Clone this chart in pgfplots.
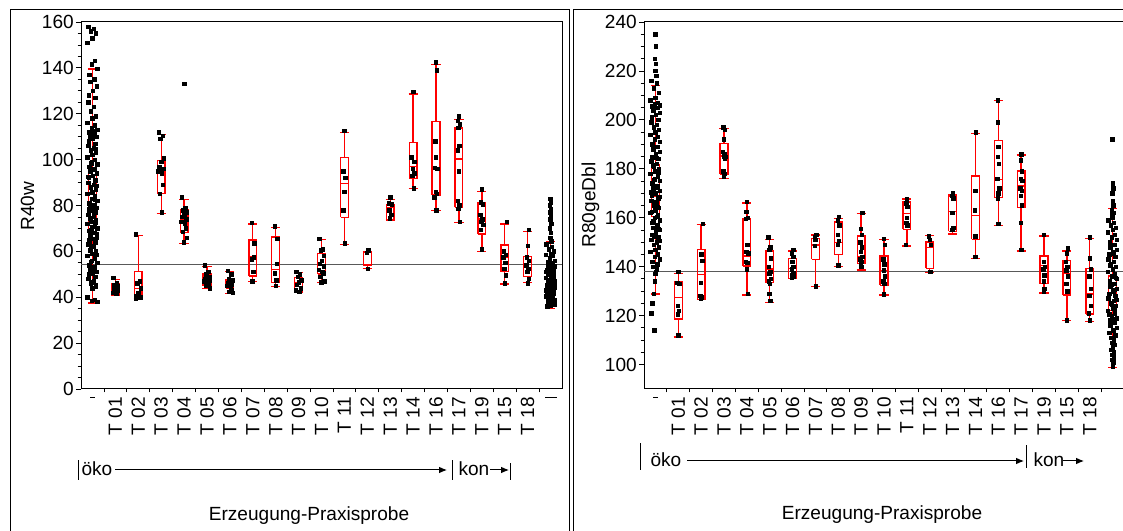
\documentclass[border=0pt]{standalone}
\usepackage{fontspec}
\setmainfont{Liberation Sans}
\usepackage{pgfplots}
\pgfplotsset{compat=1.18}
\usetikzlibrary{arrows.meta}
\definecolor{jred}{RGB}{255,0,0}

% box: position, lower whisker, Q1, median, Q3, upper whisker
\newcommand\bx[6]{%
 \pgfmathsetmacro\bxA{#1-0.17}\pgfmathsetmacro\bxB{#1+0.17}%
 \pgfmathsetmacro\bxC{#1-0.2}\pgfmathsetmacro\bxD{#1+0.2}%
 \edef\bxDo{%
  \noexpand\addplot[bxs] coordinates {(\bxA,#3)(\bxB,#3)(\bxB,#5)(\bxA,#5)(\bxA,#3)};
  \noexpand\addplot[bxs] coordinates {(\bxA,#4)(\bxB,#4)};
  \noexpand\addplot[bxs] coordinates {(#1,#5)(#1,#6)};
  \noexpand\addplot[bxs] coordinates {(#1,#3)(#1,#2)};
  \noexpand\addplot[bxs] coordinates {(\bxC,#6)(\bxD,#6)};
  \noexpand\addplot[bxs] coordinates {(\bxC,#2)(\bxD,#2)};
 }%
 \bxDo}

\pgfplotsset{
 bxs/.style={draw=jred, color=jred, line width=1pt, mark=none, forget plot},
 jmp/.style={
  scale only axis, width=360.75pt, height=275.25pt, anchor=south west,
  xmin=-0.5, xmax=20.5, xtick={0,...,20}, minor xtick={0.5,1.5,...,19.5},
  major x tick style={draw=none},
  tick pos=left, tick align=outside, major tick length=3.75pt, minor tick length=2.6pt,
  minor y tick num=3,
  axis line style={line width=0.75pt},
  tick style={black, line width=0.6pt},
  ticklabel style={font=\fontsize{14.3}{16}\selectfont},
  /pgf/number format/assume math mode=true,
  yticklabel style={inner sep=1.5pt},
  xticklabel style={rotate=90, anchor=east, inner sep=2pt},
 },
 mk/.style={only marks, mark=square*, mark size=1.3pt, black},
}

\begin{document}
\begin{tikzpicture}
\path[use as bounding box] (0,0) rectangle (842.25pt,398.25pt);

% ---------------- left panel ----------------
\begin{axis}[jmp, at={(60.75pt,106.5pt)},
  ymin=0, ymax=160, ytick={0,20,...,160},
  xticklabels={{\rule{0.7pt}{3.5pt}},T 01,T 02,T 03,T 04,T 05,T 06,T 07,T 08,T 09,T 10,T 11,T 12,T 13,T 14,T 16,T 17,T 19,T 15,T 18,{\rule{0.7pt}{9pt}}}]
\addplot[black!65, line width=0.9pt] coordinates {(-0.5,54.3) (20.5,54.3)};
% category "-"
\addplot[mk] coordinates {
(-0.18,158)(0.05,157)(-0.08,156)(0.15,155)(0.00,153)(-0.22,151)(0.10,143)(-0.04,141.5)(0.20,139.5)(-0.13,137)(0.08,135)(-0.10,134)(0.18,132)(0.02,130)(-0.15,128)(0.12,127)
(-0.18,125)(0.05,123)(-0.08,121)(0.15,119)(0.00,118)(-0.22,116)(0.10,115)(-0.04,114)(0.20,113)(-0.13,112)(0.08,111)(-0.10,110.5)(0.18,110)(0.02,109)(-0.15,108)(0.12,107)
(-0.18,106)(0.05,105)(-0.08,104)(0.15,103)(0.00,102)(-0.22,101)(0.10,100)(-0.04,99)(0.20,98)(-0.13,97)(0.08,96)(-0.10,95)(0.18,94)(0.02,93)(-0.15,92)(0.12,91)
(-0.18,90)(0.05,89)(-0.08,88)(0.15,87)(0.00,86)(-0.22,85)(0.10,84)(-0.04,83)(0.20,82)(-0.13,81)(0.08,80)(-0.10,79.5)(0.18,79)(0.02,78)(-0.15,77.5)(0.12,77)
(-0.18,76)(0.05,75)(-0.08,74)(0.15,73.5)(0.00,73)(-0.22,72)(0.10,71)(-0.04,70.5)(0.20,70)(-0.13,69)(0.08,68)(-0.10,67)(0.18,66)(0.02,65.5)(-0.15,65)(0.12,64)
(-0.18,63)(0.05,62)(-0.08,61)(0.15,60)(0.00,59)(-0.22,58)(0.10,57)(-0.04,56)(0.20,55)(-0.13,54)(0.08,53)(-0.10,52)(0.18,51)(0.02,50.5)(-0.15,50)(0.12,49)
(-0.18,48)(0.05,47)(-0.08,46)(0.15,45.5)(0.00,44)(-0.22,40)(0.10,39)(-0.04,38.5)(0.20,38)
(0.03,112.5)(-0.12,109.5)(0.14,104.5)(-0.06,98.5)(0.09,95.5)(-0.19,92.5)(0.16,88.5)(-0.02,85.5)(0.11,82.5)(-0.16,78.5)(0.06,76.5)(-0.09,74.5)(0.13,72.5)(-0.05,69.5)(0.19,67.5)(-0.14,64.5)(0.04,62.5)(-0.11,60.5)(0.17,58.5)(-0.07,55.5)(0.07,52.5)(-0.17,48.5)(0.01,46.5)(0.14,44.5)
};
% T categories
\addplot[mk] coordinates {
(0.90,48.5)(1.06,46)(0.96,45.5)(1.11,45)(1.00,44.5)(0.92,44)(1.09,43)(0.88,42)(1.03,41.5)
(1.90,67.5)(2.06,47)(1.96,46)(2.11,44)(2.00,42)(1.92,40.5)(2.09,40)(1.88,39.5)
(2.90,112)(3.06,110.5)(2.96,109)(3.11,100.5)(3.00,99)(2.92,97)(3.09,96)(2.88,95)(3.03,94)(3.07,89)(2.94,85)(3.02,77)
(4.00,133)(3.90,83.5)(4.06,79)(3.96,78)(4.11,77)(4.00,76)(3.92,75)(4.09,74)(3.88,73)(4.03,72)(4.07,70)(3.94,68.5)(4.12,66)(3.98,64)
(4.90,54)(5.06,51)(4.96,50)(5.11,49)(5.00,48.5)(4.92,48)(5.09,47.5)(4.88,47)(5.03,46.5)(5.07,46)(4.94,45)(5.12,44)
(5.90,51.5)(6.06,50)(5.96,48)(6.11,47.5)(6.00,47)(5.92,46)(6.09,45.5)(5.88,45)(6.03,44)(6.07,43)(5.94,42.5)(6.12,42)
(6.96,72.5)(7.06,63.5)(7.04,57.5)(6.96,56.5)(7.02,51)(6.98,47)
(7.96,71)(8.06,65.5)(8.04,54.5)(7.96,50.5)(8.02,47.5)(8.00,45)
(8.90,51)(9.06,50)(8.96,49)(9.11,47.5)(9.00,46.5)(8.92,45.5)(9.09,44)(8.88,43)(9.03,42.5)
(9.90,65.5)(10.06,61)(9.96,60.5)(10.11,58)(10.00,56)(9.92,54.5)(10.09,53.5)(9.88,52)(10.03,51)(10.07,50.5)(9.94,49)(10.12,47)(9.98,46.5)
(11.00,112.5)(10.96,95)(11.04,92)(11.00,86)(10.94,78)(11.02,63.5)
(12.04,60.5)(11.98,59.5)(12.02,52.5)
(13.00,83.5)(12.94,81)(13.06,80.5)(12.96,78)(13.04,76)(12.98,74.5)
(14.00,129.5)(13.92,101)(14.04,99)(13.98,96)(14.06,94)(13.96,93)(14.02,87.5)
(15.00,142.5)(15.04,139)(14.96,108)(15.00,101)(14.94,96.5)(15.06,96)(14.98,86)(15.04,85)(14.92,83.5)(15.02,78)
(16.00,119)(15.96,117)(16.04,115.5)(15.98,114)(16.02,106)(15.96,104)(16.00,95)(15.94,82)(16.02,80)(15.98,78.5)(16.04,73)
(17.00,87)(16.96,81.5)(17.04,80.5)(16.94,76)(17.02,74)(16.98,73)(17.06,71.5)(16.96,69.5)(17.00,61)
(18.08,73)(17.96,60)(18.04,58.5)(17.94,57.5)(18.02,55)(17.98,52.5)(18.04,49.5)(18.00,46)
(19.04,69.5)(19.00,62.5)(18.96,57.5)(19.04,56)(18.94,54)(19.02,52.5)(18.98,51)(19.06,48)(19.00,46)
};
% category "|"
\addplot[mk] coordinates {
(19.98,83)(20.02,81.5)(19.97,80)(20.01,78.5)(19.99,77)(20.02,75.5)(19.98,74)(20.03,72)(19.96,70)(20.02,68)(19.98,66)(20.04,64.5)
(19.82,63)(20.05,62)(19.92,61)(20.15,60)(20.00,59)(19.78,58.5)(20.10,58)(19.96,57)(20.18,56)(19.87,55.5)(20.08,55)(19.90,54)(20.18,53.5)(20.02,53)(19.85,52)(20.12,51.5)
(19.82,51)(20.05,50.5)(19.92,50)(20.15,49.5)(20.00,49)(19.78,48.5)(20.10,48)(19.96,47.5)(20.18,47)(19.87,46.5)(20.08,46)(19.90,45.5)(20.18,45)(20.02,44.5)(19.85,44)(20.12,43.5)
(19.82,43)(20.05,42.5)(19.92,42)(20.15,41.5)(20.00,41)(19.78,40.5)(20.10,40)(19.96,39.5)(20.18,39)(19.87,38.5)(20.08,38)(19.90,37.5)(20.18,37)(20.02,36.5)(19.85,36)
(20.03,52.5)(19.88,50.2)(20.13,48.2)(19.94,47.2)(20.07,46.2)(19.83,45.2)(20.16,44.2)(19.97,43.2)(20.09,42.2)(19.86,41.2)(20.04,40.2)(19.93,39.2)
};
\bx{0}{37.5}{66}{80}{96}{139.5}
\bx{1}{41}{41.4}{44.5}{45.8}{47.8}
\bx{2}{39.2}{41}{43.9}{51.1}{66.8}
\bx{3}{76.6}{85.3}{95.5}{99.7}{111}
\bx{4}{63.5}{68.3}{73.7}{78.3}{82.7}
\bx{5}{43.9}{45}{47.5}{50.1}{53.3}
\bx{6}{41.7}{43.9}{45.5}{47.8}{51.1}
\bx{7}{46.8}{49.3}{57.7}{65}{71.9}
\bx{8}{44.6}{46.3}{52.2}{66.3}{70.3}
\bx{9}{42}{42}{46.3}{48.7}{50.7}
\bx{10}{46.5}{50.1}{54.4}{59.1}{65.2}
\bx{11}{63.1}{74.8}{89.7}{101}{111.7}
\bx{12}{52.5}{54.1}{59.5}{59.9}{60}
\bx{13}{73.7}{74}{79.2}{80.5}{82.7}
\bx{14}{87.5}{91.8}{96.9}{107.4}{128.6}
\bx{15}{77.7}{84.6}{96.6}{116.5}{141.5}
\bx{16}{72.5}{79.2}{100.3}{113.8}{117.5}
\bx{17}{59.9}{67.6}{74.1}{81.4}{86}
\bx{18}{45.8}{51.1}{57.2}{62.8}{71.9}
\bx{19}{46.3}{49}{52.9}{57.7}{68.6}
\bx{20}{35.2}{41}{45}{49.7}{64.2}
\end{axis}

% ---------------- right panel ----------------
\begin{axis}[jmp, at={(483pt,106.5pt)}, width=360pt,
  ymin=90, ymax=240, ytick={100,120,...,240},
  xticklabels={{\rule{0.7pt}{3.5pt}},T 01,T 02,T 03,T 04,T 05,T 06,T 07,T 08,T 09,T 10,T 11,T 12,T 13,T 14,T 16,T 17,T 19,T 15,T 18,{}}]
\addplot[black!65, line width=0.9pt] coordinates {(-0.5,137.9) (20.5,137.9)};
% category "-"
\addplot[mk] coordinates {
(0.00,235)(0.02,230)(-0.02,225)(0.01,223)(-0.01,220)(0.03,218)(-0.18,216)(0.05,215)(-0.08,213)(0.15,211)(0.00,209)(-0.22,208)(0.10,207)(-0.04,206.5)(0.20,206)(-0.13,205.5)
(0.08,205)(-0.10,204)(0.18,203)(0.02,202)(-0.15,201)(0.12,200)(-0.18,199)(0.05,198)(-0.08,197)(0.15,196)(0.00,195)(-0.22,194)(0.10,193)(-0.04,192)(0.20,191)(-0.13,190)
(0.08,189)(-0.10,188)(0.18,187)(0.02,186)(-0.15,185)(0.12,184)(-0.18,183)(0.05,182)(-0.08,181)(0.15,180)(0.00,179)(-0.22,178)(0.10,177)(-0.04,176)(0.20,175)(-0.13,174)
(0.08,173)(-0.10,172)(0.18,171)(0.02,170)(-0.15,169)(0.12,168)(-0.18,167)(0.05,166)(-0.08,165)(0.15,164)(0.00,163)(-0.22,162)(0.10,161)(-0.04,160)(0.20,159)(-0.13,158)
(0.08,157)(-0.10,156)(0.18,155)(0.02,154)(-0.15,153)(0.12,152)(-0.18,151)(0.05,150)(-0.08,149)(0.15,148)(0.00,147)(-0.22,146)(0.10,145)(-0.04,144)(0.20,143)(-0.13,142)
(0.08,141)(-0.10,140)(0.05,139)(0.02,138)(0.00,137)(-0.04,134)(-0.08,129)(-0.14,125)(-0.18,121)(-0.06,114)
(0.03,184.5)(-0.12,181.5)(0.14,178.5)(-0.06,175.5)(0.09,172.5)(-0.19,170.5)(0.16,168.5)(-0.02,166.5)(0.11,164.5)(-0.16,162.5)(0.06,160.5)(-0.09,158.5)(0.13,155.5)(-0.05,152.5)(0.19,150.5)
};
% T categories
\addplot[mk] coordinates {
(1.00,138)(0.96,133.5)(1.04,133)(0.98,124)(1.02,122)(0.97,120.5)(1.00,112)
(2.06,157.5)(2.00,145)(2.04,142.5)(1.98,133.5)(1.96,128)(2.02,127.5)(1.98,127)
(2.96,197)(3.04,196)(3.00,192)(2.94,187)(3.02,186)(3.06,185)(2.98,185)(3.04,184)(2.96,179)(3.02,178)(3.00,177)
(4.00,166.5)(3.98,162.5)(4.04,160)(3.96,159.5)(4.02,149)(3.98,146)(4.06,145.5)(3.96,142)(4.02,141.5)(4.00,139)(4.04,129)
(4.94,152)(5.02,148)(4.98,147)(5.04,143.5)(4.96,140)(5.02,138)(4.98,137)(5.04,135)(4.96,134)(5.00,133)(4.98,129)(5.02,126)
(6.02,147)(5.96,145.5)(6.04,144)(5.98,142)(6.02,140)(5.96,139)(6.04,137.5)(5.98,136.5)(6.02,136)(5.96,135.5)
(7.04,153)(6.98,152)(7.00,151)(6.98,148.5)(7.02,132)
(8.02,160.5)(7.98,159)(8.04,157)(7.98,153)(8.02,150.5)(7.98,149)(8.00,140.5)
(9.04,162)(8.98,155.5)(9.02,153)(8.96,150)(9.02,148)(8.98,146)(9.04,144)(8.96,143)(9.02,142)(8.98,141)(9.00,140)
(10.00,151.5)(10.04,149)(9.96,143)(10.02,141)(9.98,138.5)(10.04,136)(9.96,134)(10.02,133)(9.98,129)(10.00,128.5)
(11.00,167.5)(10.98,166)(11.02,164.5)(11.00,160)(10.98,158)(11.02,157)(10.96,149)
(11.96,152.5)(12.00,151)(12.04,149)(12.02,138)
(13.00,170)(12.98,169)(13.02,168)(12.98,162)(13.02,156)(12.98,155)
(14.02,195)(14.00,171)(13.98,163)(14.00,152.5)(14.00,144)
(14.98,208)(14.98,199)(15.00,189)(14.98,185)(15.02,182)(14.96,176)(15.04,172)(15.00,170)(14.98,168)(15.00,157.5)
(16.00,186)(15.98,183.5)(16.02,179)(15.98,176)(16.04,175)(15.96,172)(16.02,171)(15.98,169)(16.02,165)(15.98,158)(16.00,147)
(16.98,153)(17.00,142)(17.04,140)(16.96,139)(17.02,136.5)(16.98,134)(17.02,131)(16.98,130)
(18.04,147.5)(18.00,145.5)(17.96,142)(18.02,140)(17.98,138.5)(18.04,136)(17.98,133)(18.02,130)(18.00,118)
(19.00,152)(19.00,143.5)(19.04,139)(18.98,136)(19.04,131)(18.98,128)(19.04,124)(18.96,121)(19.00,118)
};
% category "|"
\addplot[mk] coordinates {
(19.98,192)(20.00,174)(20.02,172)(19.98,170)(20.00,167)(20.03,165)(19.97,163)(20.02,162)(19.98,161)(20.01,160)
(19.82,159)(20.05,158)(19.92,157)(20.15,156)(20.00,155)(19.78,154)(20.10,153)(19.96,152)(20.18,151)(19.87,150)(20.08,149)(19.90,148)(20.18,147)(20.02,146)(19.85,145)(20.12,144)
(19.82,143)(20.05,142)(19.92,141)(20.15,140)(20.00,139)(19.78,138)(20.10,137)(19.96,136)(20.18,135)(19.87,134)(20.08,133)(19.90,132)(20.18,131)(20.02,130)(19.85,129)(20.12,128)
(19.82,127)(20.05,126)(19.92,125)(20.15,124)(20.00,123)(19.78,122)(20.10,121)(19.96,120)(20.18,119)(19.87,118)(20.08,117)(19.90,116)(20.18,115)(20.02,114)(19.85,113)(20.12,112)
(19.92,111)(20.05,110)(19.96,109)(20.08,108)(20.00,107)(19.94,106)(20.06,105)(19.98,104)(20.04,103)(19.96,102)(20.02,101)(20.00,100)(20.01,99)
(20.03,145.5)(19.88,140.5)(20.13,135.5)(19.94,132.5)(20.07,130.5)(19.83,128.5)(20.16,126.5)(19.97,124.5)(20.09,122.5)(19.86,120.5)(20.04,118.5)(19.93,116.5)
};
\bx{0}{128.8}{160.5}{168.7}{181.6}{214.1}
\bx{1}{111.3}{118.6}{127.4}{133.8}{137.3}
\bx{2}{126.7}{126.7}{136.8}{147.1}{157.1}
\bx{3}{176}{177.8}{185.2}{190.4}{196.5}
\bx{4}{128.4}{140.3}{144.4}{159.8}{166}
\bx{5}{125.4}{133.5}{139}{146.4}{151.2}
\bx{6}{135.2}{135.2}{139.3}{143.3}{146.4}
\bx{7}{131.9}{143}{148.8}{151.6}{152.9}
\bx{8}{140}{145}{149.9}{158.3}{159.7}
\bx{9}{138.7}{141.3}{144.2}{152.6}{161.8}
\bx{10}{128.4}{132.4}{138.3}{144.4}{151.2}
\bx{11}{148.5}{155.3}{161.8}{166.4}{167.6}
\bx{12}{137.6}{139.3}{147.8}{150.1}{152.7}
\bx{13}{153.3}{154.4}{162.5}{168.9}{169.6}
\bx{14}{143.3}{151.2}{161}{177.1}{194.4}
\bx{15}{156.9}{168.2}{175.7}{191.6}{208}
\bx{16}{146.4}{164.2}{172.9}{179.1}{185.6}
\bx{17}{129.2}{133.1}{140.6}{144.4}{152.6}
\bx{18}{117.9}{128.4}{137.3}{142.4}{146.4}
\bx{19}{117.5}{120.6}{128.8}{139.3}{151.6}
\bx{20}{98.9}{122}{129}{136.2}{163.8}
\end{axis}

% ---------------- frames and annotations (units: px) ----------------
\begin{scope}[x=0.75pt, y=0.75pt, font=\fontsize{14.3}{16}\selectfont, line width=0.75pt]
\draw (10,-5) rectangle (569.5,521);
\draw (573,-5) rectangle (1135,521);
\node[rotate=90] at (27.5,325) {R40w};
\node[rotate=90] at (590.5,326) {R80geDbl};
\node at (309,15) {Erzeugung-Praxisprobe};
\node at (882,16) {Erzeugung-Praxisprobe};
% left annotation
\draw (78,51) -- (78,71);
\node[anchor=west, inner sep=0] at (81,62) {öko};
\draw[-{Latex[length=6pt,width=5pt]}] (115,61) -- (447,61);
\draw (452,51) -- (452,71);
\node[anchor=west, inner sep=0] at (458,62) {kon};
\draw[-{Latex[length=6pt,width=5pt]}] (490,61) -- (509,61);
\draw (510,51) -- (510,68);
% right annotation
\draw (640.7,61) -- (640.7,88);
\node[anchor=west, inner sep=0] at (650,71) {öko};
\draw[-{Latex[length=6pt,width=5pt]}] (687,70) -- (1024,70);
\draw (1026,63) -- (1026,86);
\node[anchor=west, inner sep=0] at (1033,71) {kon};
\draw[-{Latex[length=6pt,width=5pt]}] (1063,70) -- (1084,70);
\end{scope}
\end{tikzpicture}
\end{document}
